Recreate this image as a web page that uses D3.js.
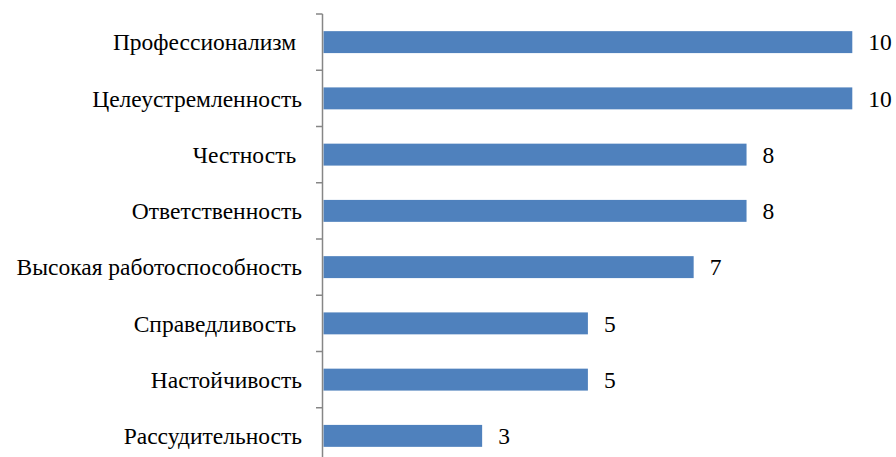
<!DOCTYPE html>
<html>
<head>
<meta charset="utf-8">
<script src="https://cdn.jsdelivr.net/npm/d3@7"></script>
</head>
<body style="margin:0">
<svg id="chart" width="896" height="457"></svg>
<script>
// Qualities and how many times each was named
const categories = [
  "Профессионализм ",
  "Целеустремленность",
  "Честность ",
  "Ответственность",
  "Высокая работоспособность",
  "Справедливость ",
  "Настойчивость",
  "Рассудительность"
];
const values = [10, 10, 8, 8, 7, 5, 5, 3];

const FONT = '"Liberation Serif"';
const TEXT_SCALE = 1.175; // 20px glyphs enlarged to ~23.5px
const svg = d3.select("#chart");
const x0 = 323.5, y0 = 14, band = 56.25;

const x = d3.scaleLinear().domain([0, 10]).range([x0, 852.3]);
const y = d3.scaleBand()
  .domain(categories)
  .range([y0, y0 + band * categories.length])
  .paddingInner(0.61)
  .paddingOuter(0.305);

// bars
svg.append("g").selectAll("rect")
  .data(values)
  .join("rect")
  .attr("x", x(0))
  .attr("y", (d, i) => y(categories[i]))
  .attr("width", d => x(d) - x(0))
  .attr("height", y.bandwidth())
  .attr("fill", "#4F81BD");

// category axis with ticks between bands
const axis = svg.append("g");
axis.append("line")
  .attr("x1", 322.5).attr("x2", 322.5)
  .attr("y1", y0).attr("y2", y0 + band * categories.length)
  .attr("stroke", "#868686").attr("stroke-width", 1.5);
axis.selectAll("line.tick")
  .data(d3.range(categories.length + 1))
  .join("line")
  .attr("class", "tick")
  .attr("x1", 316).attr("x2", 322.5)
  .attr("y1", i => y0 + i * band).attr("y2", i => y0 + i * band)
  .attr("stroke", "#868686").attr("stroke-width", 1.5);

// category labels
svg.append("g").selectAll("text")
  .data(categories)
  .join("text")
  .attr("transform", d => `translate(302,${y(d) + y.bandwidth() / 2}) scale(${TEXT_SCALE})`)
  .attr("dy", "0.35em")
  .attr("text-anchor", "end")
  .style("font-family", FONT)
  .style("font-size", "20px")
  .style("white-space", "pre")
  .attr("fill", "#000")
  .text(d => d);

// value labels
svg.append("g").selectAll("text")
  .data(values)
  .join("text")
  .attr("transform", (d, i) => `translate(${x(d) + 16},${y(categories[i]) + y.bandwidth() / 2}) scale(${TEXT_SCALE})`)
  .attr("dy", "0.35em")
  .style("font-family", FONT)
  .style("font-size", "20px")
  .attr("fill", "#000")
  .text(d => d);
</script>
</body>
</html>
